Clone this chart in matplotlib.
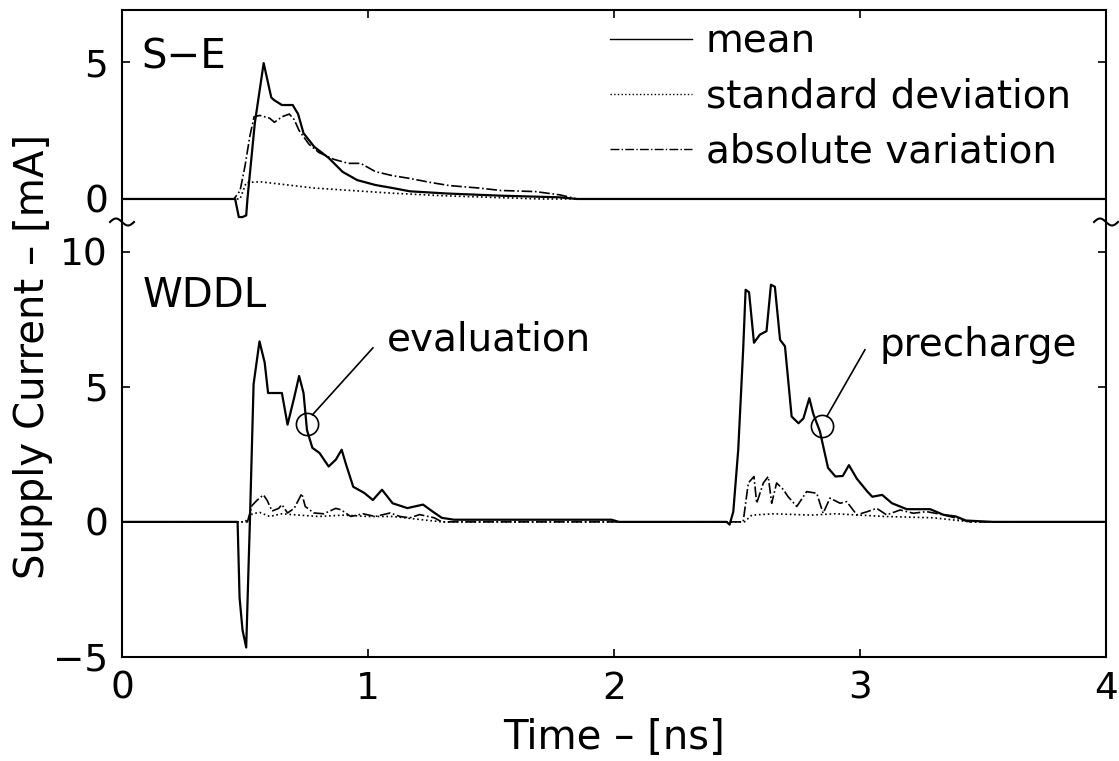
import numpy as np
import matplotlib
matplotlib.use("Agg")
import matplotlib.pyplot as plt
from matplotlib.lines import Line2D

plt.rcParams["font.family"] = ["DejaVu Sans"]

# --- S-E (single ended) ---
se_t_mean = [0, 0.46, 0.475, 0.49, 0.505, 0.51, 0.54, 0.576, 0.607, 0.62, 0.65, 0.694,
             0.716, 0.738, 0.782, 0.84, 0.897, 0.956, 1.03, 1.1, 1.17, 1.32, 1.54, 1.78, 1.85, 4.0]
se_mean = [0, 0, -0.66, -0.66, -0.6, 0, 2.77, 4.96, 3.7, 3.6, 3.43, 3.43,
           3.1, 2.4, 1.9, 1.5, 0.99, 0.69, 0.51, 0.4, 0.28, 0.2, 0.12, 0.06, 0, 0]

se_t_std = [0, 0.48, 0.505, 0.56, 0.78, 1.1, 1.3, 1.5, 1.7, 4.0]
se_std = [0, 0, 0.6, 0.63, 0.4, 0.21, 0.12, 0.06, 0, 0]

se_t_abs = [0, 0.455, 0.48, 0.5, 0.52, 0.537, 0.56, 0.6, 0.62, 0.65, 0.68, 0.7, 0.72,
            0.76, 0.8, 0.86, 0.92, 0.97, 1.03, 1.1, 1.17, 1.25, 1.33, 1.45, 1.54, 1.68,
            1.78, 1.85, 4.0]
se_abs = [0, 0, 0.3, 1.2, 2.3, 3.0, 3.05, 2.95, 2.8, 3.0, 3.1, 2.9, 2.5,
          2.0, 1.7, 1.45, 1.3, 1.3, 1.0, 0.85, 0.75, 0.61, 0.49, 0.4, 0.31, 0.27,
          0.15, 0, 0]

# --- WDDL ---
wddl_t_mean = [0, 0.40, 0.47, 0.478, 0.49, 0.505, 0.515, 0.52, 0.535, 0.559, 0.58, 0.594,
               0.62, 0.65, 0.673, 0.70, 0.72, 0.738, 0.752, 0.774, 0.803, 0.84, 0.869,
               0.893, 0.91, 0.94, 0.985, 1.02, 1.057, 1.1, 1.16, 1.224, 1.26, 1.3, 1.35,
               1.99, 2.02, 2.458, 2.47, 2.485, 2.505, 2.525, 2.535, 2.549, 2.569, 2.593,
               2.62, 2.638, 2.654, 2.675, 2.695, 2.722, 2.75, 2.77, 2.794, 2.81, 2.837,
               2.87, 2.9, 2.93, 2.955, 2.987, 3.03, 3.05, 3.09, 3.13, 3.19, 3.285, 3.34,
               3.39, 3.43, 3.54, 4.0]
wddl_mean = [0, 0, 0, -2.8, -4.0, -4.65, -1.5, 0, 5.1, 6.68, 5.9, 4.77,
             4.77, 4.77, 3.6, 4.6, 5.4, 4.77, 3.4, 2.74, 2.55, 2.05, 2.3,
             2.67, 2.15, 1.3, 1.07, 0.81, 1.19, 0.69, 0.51, 0.64, 0.4, 0.15, 0.08,
             0.08, 0, 0, -0.1, 0.38, 2.67, 6.37, 8.59, 8.5, 6.63, 6.93,
             7.06, 8.78, 8.7, 6.74, 6.5, 3.9, 3.65, 3.83, 4.58, 4.0, 3.35,
             2.0, 1.68, 1.7, 2.1, 1.6, 1.12, 0.93, 1.0, 0.69, 0.47, 0.47, 0.26,
             0.2, 0.05, 0, 0]

wddl_t_std = [0, 0.50, 0.53, 0.56, 0.6, 0.65, 0.72, 0.8, 0.9, 1.0, 1.1, 1.2, 1.3,
              2.53, 2.56, 2.65, 2.8, 2.9, 3.1, 3.3, 3.45, 4.0]
wddl_std = [0, 0, 0.3, 0.35, 0.2, 0.3, 0.25, 0.2, 0.25, 0.2, 0.2, 0.1, 0,
            0, 0.25, 0.3, 0.25, 0.3, 0.2, 0.15, 0, 0]

wddl_t_abs = [0, 0.51, 0.528, 0.549, 0.575, 0.59, 0.61, 0.637, 0.65, 0.673, 0.70, 0.731,
              0.745, 0.78, 0.82, 0.869, 0.89, 0.93, 0.98, 1.03, 1.09, 1.13, 1.17, 1.21,
              1.27, 1.3, 2.525, 2.546, 2.569, 2.58, 2.607, 2.627, 2.641, 2.661, 2.688,
              2.707, 2.743, 2.783, 2.824, 2.85, 2.878, 2.919, 2.946, 2.987, 3.03, 3.068,
              3.108, 3.163, 3.217, 3.27, 3.34, 3.39, 3.447, 4.0]
wddl_abs = [0, 0, 0.6, 0.8, 1.0, 0.8, 0.4, 0.5, 0.64, 0.33, 0.5, 1.05,
            0.57, 0.33, 0.3, 0.5, 0.45, 0.2, 0.3, 0.2, 0.33, 0.2, 0.15, 0.27,
            0.15, 0, 0, 1.44, 1.68, 0.69, 1.44, 1.68, 0.69, 1.44, 1.2,
            0.94, 0.57, 1.12, 1.06, 0.32, 0.88, 0.69, 0.75, 0.26, 0.38, 0.5,
            0.26, 0.44, 0.32, 0.38, 0.26, 0.14, 0, 0]

fig = plt.figure(figsize=(11.19, 7.61), dpi=100)
left, width = 0.109, 0.8794
ax1 = fig.add_axes([left, 0.7083, width, 0.2786])
ax2 = fig.add_axes([left, 0.1367, width, 0.5716])

lw_mean = 1.6
lw_other = 1.2
for ax, tm, m, ts, s, ta, a in [
        (ax1, se_t_mean, se_mean, se_t_std, se_std, se_t_abs, se_abs),
        (ax2, wddl_t_mean, wddl_mean, wddl_t_std, wddl_std, wddl_t_abs, wddl_abs)]:
    ax.plot(tm, m, color="black", lw=lw_mean, ls="-", label="mean")
    ax.plot(ts, s, color="black", lw=lw_other, ls=":", label="standard deviation")
    ax.plot(ta, a, color="black", lw=lw_other, ls="-.", label="absolute variation")
    ax.set_xlim(0, 4)
    ax.set_xticks([0, 1, 2, 3, 4])
    for sp in ax.spines.values():
        sp.set_linewidth(1.5)

ax1.set_ylim(-0.84, 6.9)
ax1.set_yticks([0, 5])
ax1.spines["bottom"].set_visible(False)
ax1.tick_params(direction="in", length=6, width=1.2, top=True, right=True,
                bottom=False, labelbottom=False, labelsize=27, pad=10)

ax2.set_ylim(-5, 11.1)
ax2.set_yticks([-5, 0, 5, 10])
ax2.spines["top"].set_visible(False)
ax2.tick_params(direction="in", length=6, width=1.2, top=False, right=True,
                labelsize=27, pad=10)
ax2.set_xlabel("Time – [ns]", fontsize=29, labelpad=8)

ax1.text(0.077, 5.18, "S−E", fontsize=29, va="center", ha="left")
ax2.text(0.085, 8.37, "WDDL", fontsize=29, va="center", ha="left")

# annotations
ax2.plot([0.752], [3.63], marker="o", ms=16, mfc="none", mec="black", mew=1.2)
ax2.plot([0.774, 1.02], [3.96, 6.44], color="black", lw=1.2)
ax2.text(1.077, 6.74, "evaluation", fontsize=28, va="center", ha="left")
ax2.plot([2.844], [3.56], marker="o", ms=16, mfc="none", mec="black", mew=1.2)
ax2.plot([2.865, 3.02], [3.9, 6.37], color="black", lw=1.2)
ax2.text(3.08, 6.55, "precharge", fontsize=28, va="center", ha="left")

leg = ax1.legend(loc="upper left", bbox_to_anchor=(0.496, 0.942), frameon=False,
                 fontsize=28, handlelength=2.1, handletextpad=0.36, labelspacing=0.44,
                 borderaxespad=0, borderpad=0)
for h in leg.get_lines():
    h.set_linewidth(1.0)

fig.text(33 / 1119, 1 - 356 / 761, "Supply Current – [mA]", rotation=90,
         fontsize=29, ha="center", va="center")

# axis break marks
W, H = 1119, 761
xs = np.linspace(-12, 12, 30)
ys = 3.5 * np.sin(np.pi * (xs + 12) / 12)
for xc in (122, 1106):
    fig.add_artist(Line2D((xc + xs) / W, (H - 222 + ys) / H, color="black", lw=1.5,
                          transform=fig.transFigure))

fig.savefig("out.png", dpi=100)
